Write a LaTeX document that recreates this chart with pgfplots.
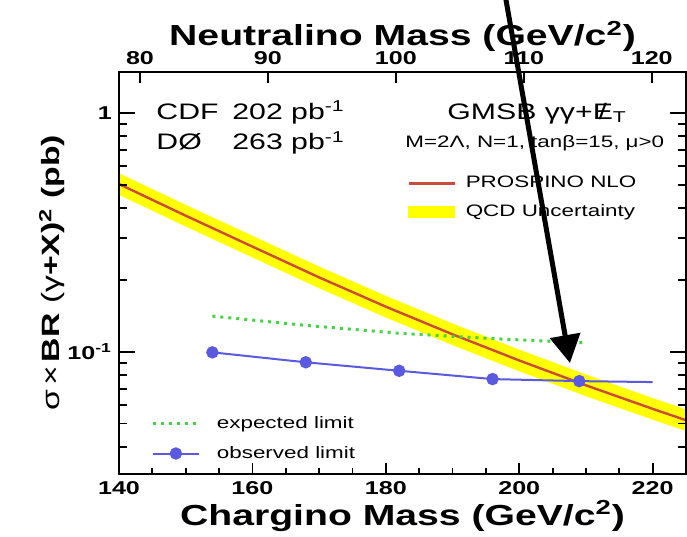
\documentclass[border=0pt]{standalone}
\usepackage{pgfplots}
\pgfplotsset{compat=1.18}
\usepackage{fontspec}
\setmainfont{Liberation Sans}[FakeStretch=1.35]
\usetikzlibrary{arrows.meta}

\definecolor{nlored}{RGB}{205,75,60}
\definecolor{bandyellow}{RGB}{255,255,0}
\definecolor{explim}{RGB}{70,210,70}
\definecolor{obslim}{RGB}{90,90,225}

\newcommand{\fs}[1]{\fontsize{#1}{#1}\selectfont}

\begin{document}
\begin{tikzpicture}
\pgfplotsset{
  every axis/.append style={
    scale only axis, width=283.5pt, height=201pt,
    axis line style={line width=1pt},
    tick style={line width=0.9pt, black},
    tick align=inside,
    /pgf/number format/assume math mode=true,
  },
}

% chargino-mass axis carrying the cross section and the limits
\begin{axis}[
  name=main,
  xmin=140, xmax=225, ymode=log, ymin=0.0307, ymax=1.49,
  xtick={140,160,...,220}, minor x tick num=3, xtick pos=bottom,
  major tick length=5.5pt, minor tick length=3pt,
  ytick=\empty,
  xticklabel style={font=\fs{9.3}\bfseries},
  xlabel={\textbf{Chargino Mass (GeV/c\textsuperscript{2})}},
  xlabel style={font=\fs{14.5}, at={(axis description cs:0.5,-0.1269)}, anchor=base},
  legend style={draw=none, fill=none, at={(0.0564,0.0877)}, anchor=west,
    font=\fs{8.3}, inner sep=0pt, row sep=3.25pt, cells={anchor=west},
    /tikz/every odd column/.append style={column sep=6.25pt}},
  legend image code/.code={\draw[mark repeat=2,mark phase=2,#1]
    plot coordinates {(0pt,0pt) (11.5pt,0pt) (23pt,0pt)};},
]
% QCD uncertainty band
\addplot[fill=bandyellow, draw=none, forget plot] coordinates {
  (140,0.5606) (150,0.4129) (160,0.3064) (170,0.2276) (180,0.1715)
  (190,0.1313) (200,0.1020) (210,0.0803) (220,0.0639) (225,0.0573)
  (225,0.0465) (220,0.0519) (210,0.0651) (200,0.0828) (190,0.1066)
  (180,0.1392) (170,0.1847) (160,0.2486) (150,0.3351) (140,0.4550)
};
% PROSPINO NLO cross section
\addplot[nlored, line width=1.2pt, forget plot] coordinates {
  (140,0.505) (150,0.372) (160,0.276) (170,0.205) (180,0.1545)
  (190,0.1183) (200,0.0919) (210,0.0723) (220,0.0576) (225,0.0516)
};
% expected limit
\addplot[explim, line width=1.5pt, dash pattern=on 1.5pt off 2.5pt] coordinates {
  (154,0.141) (168,0.129) (182,0.1195) (196,0.1135) (209.6,0.109)
};
\addlegendentry{expected limit}
% observed limit: tail of the curve beyond the last mass point
\addplot[obslim, line width=1pt, forget plot] coordinates {
  (209,0.0753) (220,0.0746)
};
\addplot[obslim, line width=1pt, mark=*, mark size=2.6pt, mark options={solid, fill=obslim}] coordinates {
  (154,0.0994) (168,0.0903) (182,0.0832) (196,0.0768) (209,0.0753)
};
\addlegendentry{observed limit}

\node[anchor=base west, inner sep=0pt, font=\fs{11.2}] at (rel axis cs:0.0653,0.883) {CDF};
\node[anchor=base west, inner sep=0pt, font=\fs{11.2}] at (rel axis cs:0.1993,0.883) {202 pb\textsuperscript{-1}};
\node[anchor=base west, inner sep=0pt, font=\fs{11.2}] at (rel axis cs:0.0653,0.806) {DØ};
\node[anchor=base west, inner sep=0pt, font=\fs{11.2}] at (rel axis cs:0.1993,0.806) {263 pb\textsuperscript{-1}};
\node[anchor=base west, inner sep=0pt, font=\fs{11.2}] at (rel axis cs:0.5785,0.883)
  {GMSB γγ+\ooalign{\hfil/\hfil\cr E}\textsubscript{T}};
\node[anchor=base west, inner sep=0pt, font=\fs{8.3}] at (rel axis cs:0.5044,0.811)
  {M=2Λ, N=1, tanβ=15, μ>0};

\coordinate (arrtip) at (axis cs:207.6,0.0897);
\coordinate (arrtail) at (axis cs:197.75,3.29);
\coordinate (bbsw) at (rel axis cs:-0.20988,-0.15423);
\coordinate (bbne) at (rel axis cs:1.00176,1.1791);
\end{axis}

% logarithmic cross-section scale
\begin{axis}[
  xmin=140, xmax=225, ymode=log, ymin=0.0307, ymax=1.49,
  hide x axis,
  ytick={0.1,1},
  yticklabels={\textbf{10}\textsuperscript{\textbf{-1}}, \textbf{1}},
  minor ytick={0.04,0.05,0.06,0.07,0.08,0.09,0.2,0.3,0.4,0.5,0.6,0.7,0.8,0.9},
  ytick pos=both,
  major tick length=8pt, minor tick length=4pt,
  yticklabel style={font=\fs{9.3}\bfseries},
  ylabel={σ\,×\,\textbf{BR} (γ\textbf{+X)}\textsuperscript{\textbf{2}} \textbf{(pb)}},
  ylabel style={font=\fs{12.5}, at={(axis description cs:-0.118,0.5)}, anchor=center},
]
\end{axis}

% neutralino-mass scale on top, with the theory legend
\begin{axis}[
  xmin=78.36, xmax=122.68, ymin=0, ymax=1,
  axis x line*=top, hide y axis,
  tick align=inside,
  xtick={80,90,...,120},
  major tick length=5.5pt,
  xticklabel style={font=\fs{9.3}\bfseries},
  xlabel={\textbf{Neutralino Mass (GeV/c\textsuperscript{2})}},
  xlabel style={font=\fs{14.5}, at={(axis description cs:0.5,1.0647)}, anchor=base},
  legend style={draw=none, fill=none, at={(0.5079,0.6872)}, anchor=west,
    font=\fs{8.3}, inner sep=0pt, row sep=2.75pt, cells={anchor=west},
    /tikz/every odd column/.append style={column sep=3pt}},
]
\addlegendimage{legend image code/.code={\draw[nlored, line width=1.2pt] (0pt,0pt) -- (23pt,0pt);}}
\addlegendentry{PROSPINO NLO}
\addlegendimage{legend image code/.code={\fill[bandyellow] (0pt,-2.75pt) rectangle (23pt,2.75pt);}}
\addlegendentry{QCD Uncertainty}
\end{axis}

\draw[line width=2.5pt, -{Triangle[length=14pt,width=15pt]}] (arrtail) -- (arrtip);

\pgfresetboundingbox
\path[use as bounding box] (bbsw) rectangle (bbne);
\end{tikzpicture}
\end{document}
